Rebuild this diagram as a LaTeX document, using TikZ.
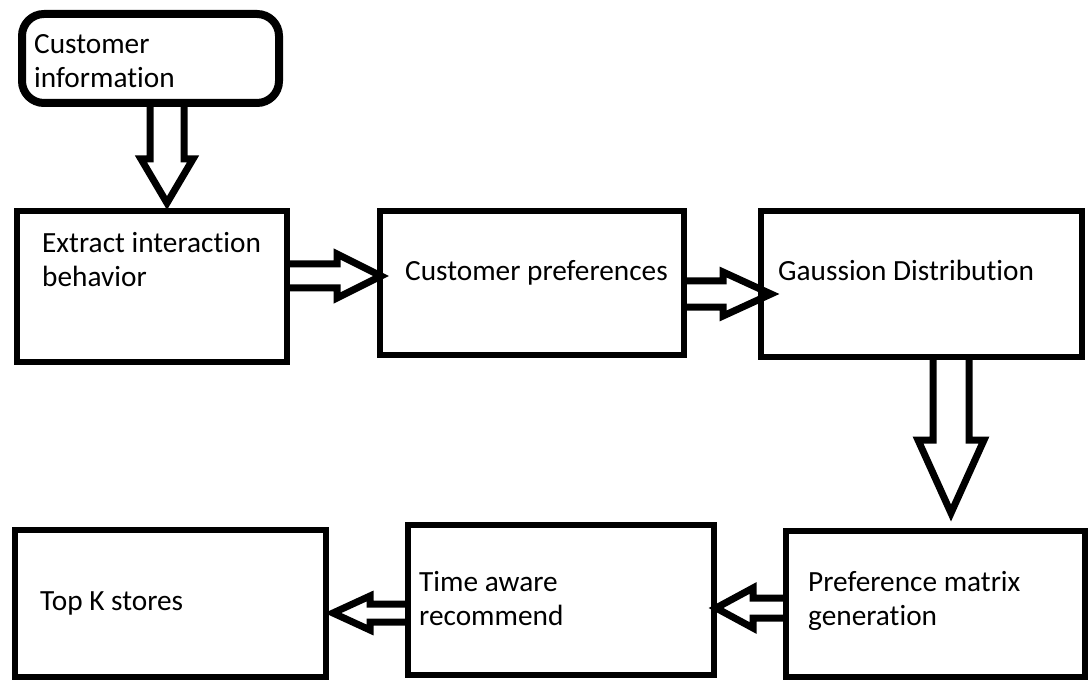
\documentclass[tikz,border=0pt]{standalone}
\usepackage{fontspec}
\setmainfont{Carlito}[Ligatures=NoCommon]
\usetikzlibrary{calc}

\newcommand{\hollowarrow}[5]{%
  \coordinate (hb) at ($(#2)!#5pt!(#1)$);
  \draw[hollow] ($(#1)!#3pt!90:(#2)$) -- ($(hb)!#3pt!90:(#2)$)
    -- ($(hb)!#4pt!90:(#2)$) -- (#2) -- ($(hb)!#4pt!-90:(#2)$)
    -- ($(hb)!#3pt!-90:(#2)$) -- ($(#1)!#3pt!-90:(#2)$);
}

\begin{document}
\begin{tikzpicture}[x=1pt,y=-1pt,
    box/.style={draw,line width=6pt,inner sep=0pt},
    txt/.style={anchor=base west,align=left,inner sep=0pt,font=\fontsize{29.3}{34}\selectfont},
    hollow/.style={draw,line width=7pt,line join=miter}]
  \fill[white] (0,0) rectangle (1091,684);
  \useasboundingbox (0,0) rectangle (1091,684);
  % boxes
  \node[box,line width=8pt,rounded corners=22pt,minimum width=257pt,minimum height=89pt] (info) at (150.5,58.5) {};
  \node[box,minimum width=270pt,minimum height=151pt] (extract) at (152,286.5) {};
  \node[box,minimum width=304pt,minimum height=144pt] (prefs) at (532,283) {};
  \node[box,minimum width=321pt,minimum height=146pt] (gauss) at (921.5,284) {};
  \node[box,minimum width=299pt,minimum height=146pt] (matrix) at (935.5,604) {};
  \node[box,minimum width=306pt,minimum height=150pt] (time) at (561,600) {};
  \node[box,minimum width=311pt,minimum height=147pt] (topk) at (170.5,603.5) {};
  % texts (base = last line)
  \node[txt] (infotext) at ([shift={(16,78)}]info.north west) {Customer\\information};
  \node[txt] (extracttext) at ([shift={(28,79)}]extract.north west) {Extract interaction\\behavior};
  \node[txt] (prefstext) at ([shift={(28,73)}]prefs.north west) {Customer preferences};
  \node[txt] (gausstext) at ([shift={(20,73)}]gauss.north west) {Gaussion Distribution};
  \node[txt] (matrixtext) at ([shift={(25,97)}]matrix.north west) {Preference matrix\\generation};
  \node[txt] (timetext) at ([shift={(14,103)}]time.north west) {Time aware\\recommend};
  \node[txt] (topktext) at ([shift={(28,83)}]topk.north west) {Top K stores};
  % arrows
  \coordinate (a1s) at ([xshift=149pt]info.south west);
  \coordinate (a1e) at ($(a1s |- extract.north)+(0,-5)$);
  \hollowarrow{a1s}{a1e}{17}{26}{44}
  \coordinate (a2s) at ([xshift=193pt]gauss.south west);
  \coordinate (a2e) at ($(a2s |- matrix.north)+(0,-15)$);
  \hollowarrow{a2s}{a2e}{18}{33}{73}
  \coordinate (a3s) at ([yshift=-68pt]extract.north east);
  \coordinate (a3e) at ($(a3s -| prefs.west)+(4,0)$);
  \hollowarrow{a3s}{a3e}{12}{22}{44}
  \coordinate (a4s) at ([yshift=-86pt]prefs.north east);
  \coordinate (a4e) at ($(a4s -| gauss.west)+(13,0)$);
  \hollowarrow{a4s}{a4e}{13}{22}{48}
  \coordinate (a5s) at ([yshift=-80pt]matrix.north west);
  \coordinate (a5e) at ($(a5s -| time.east)+(-1,0)$);
  \hollowarrow{a5s}{a5e}{10}{20}{37}
  \coordinate (a6s) at ([yshift=-91pt]time.north west);
  \coordinate (a6e) at ($(a6s -| topk.east)+(4,0)$);
  \hollowarrow{a6s}{a6e}{9}{17}{37}
\end{tikzpicture}
\end{document}
